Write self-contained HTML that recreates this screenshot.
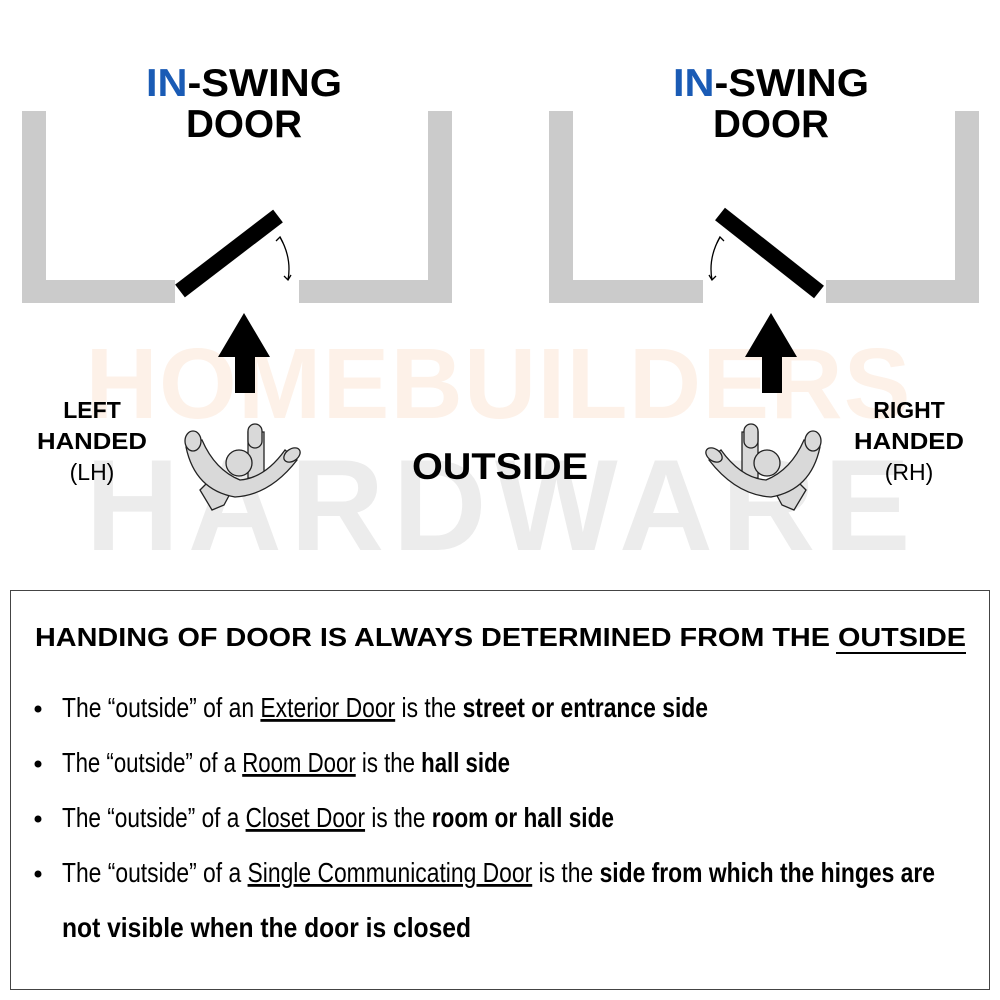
<!DOCTYPE html>
<html><head><meta charset="utf-8"><style>
html,body{margin:0;padding:0;background:#fff;}
svg{display:block;}
</style></head><body>
<svg width="1000" height="1000" viewBox="0 0 1000 1000" xmlns="http://www.w3.org/2000/svg" font-family="Liberation Sans, sans-serif">
<rect width="1000" height="1000" fill="#fff"/>
<!-- watermark -->
<text x="498" y="418" text-anchor="middle" font-size="100" font-weight="bold" fill="#fdf1e8" textLength="825" lengthAdjust="spacing">HOMEBUILDERS</text>
<text x="498" y="550" text-anchor="middle" font-size="130" font-weight="bold" fill="#ececec" textLength="825" lengthAdjust="spacing">HARDWARE</text>

<!-- titles -->
<text x="244" y="96" text-anchor="middle" font-size="39" font-weight="bold" textLength="196" lengthAdjust="spacingAndGlyphs"><tspan fill="#1a5bb5">IN</tspan><tspan fill="#000">-SWING</tspan></text>
<text x="244" y="137" text-anchor="middle" font-size="39" font-weight="bold" textLength="116" lengthAdjust="spacingAndGlyphs">DOOR</text>
<text x="771" y="96" text-anchor="middle" font-size="39" font-weight="bold" textLength="196" lengthAdjust="spacingAndGlyphs"><tspan fill="#1a5bb5">IN</tspan><tspan fill="#000">-SWING</tspan></text>
<text x="771" y="137" text-anchor="middle" font-size="39" font-weight="bold" textLength="116" lengthAdjust="spacingAndGlyphs">DOOR</text>

<g fill="#cbcbcb">
<rect x="22" y="111" width="24" height="192"/>
<rect x="46" y="280" width="129" height="23"/>
<rect x="299" y="280" width="129" height="23"/>
<rect x="428" y="111" width="24" height="192"/>
<rect x="549" y="111" width="24" height="192"/>
<rect x="573" y="280" width="130" height="23"/>
<rect x="826" y="280" width="129" height="23"/>
<rect x="955" y="111" width="24" height="192"/>
</g>
<line x1="180" y1="291" x2="278" y2="216" stroke="#000" stroke-width="16"/>
<line x1="720" y1="214" x2="819" y2="292" stroke="#000" stroke-width="16"/>
<g fill="none" stroke="#000" stroke-width="1.3">
<path d="M280 237 Q292 258 288 280"/>
<path d="M276 241 L280 237 L283 243"/>
<path d="M284 276 L288 280 L291 275"/>
<path d="M720 237 Q708 258 712 280"/>
<path d="M717 243 L720 237 L724 241"/>
<path d="M709 275 L712 280 L716 276"/>
</g>
<polygon points="244,313 270,357 255,357 255,393 235,393 235,357 218,357" fill="#000"/>
<polygon points="771,313 797,357 782,357 782,393 762,393 762,357 745,357" fill="#000"/>

<g id="p" stroke="#222" stroke-width="1.3" fill="#d9d9d9">
<path d="M200 490 L212 510 L224 505 L232 490 L212 478 Z"/>
<path d="M248 432 L248 478 L264 478 L264 432 Z"/>
<rect x="248" y="424" width="14" height="24" rx="7"/>
<path d="M186 447 Q195 490 235 497 Q270 495 297 460 L285 450 Q265 478 240 480 Q215 470 202 440 Z"/>
<ellipse cx="193" cy="441" rx="8" ry="10"/>
<ellipse cx="292" cy="455" rx="9" ry="6" transform="rotate(-35 292 455)"/>
<circle cx="239" cy="463" r="13"/>
</g>
<use href="#p" transform="translate(1006 0) scale(-1 1)"/>

<g text-anchor="middle" font-size="23">
<text x="92" y="418" font-weight="bold">LEFT</text>
<text x="92" y="449" font-weight="bold" textLength="110" lengthAdjust="spacingAndGlyphs">HANDED</text>
<text x="92" y="480">(LH)</text>
<text x="909" y="418" font-weight="bold">RIGHT</text>
<text x="909" y="449" font-weight="bold" textLength="110" lengthAdjust="spacingAndGlyphs">HANDED</text>
<text x="909" y="480">(RH)</text>
</g>
<text x="500" y="479" text-anchor="middle" font-size="37" font-weight="bold" textLength="176" lengthAdjust="spacingAndGlyphs">OUTSIDE</text>

<rect x="10.5" y="590.5" width="979" height="399" fill="none" stroke="#444" stroke-width="1"/>
<text x="35" y="646" font-size="26" font-weight="bold" textLength="931" lengthAdjust="spacingAndGlyphs">HANDING OF DOOR IS ALWAYS DETERMINED FROM THE OUTSIDE</text>
<rect x="836" y="652" width="130" height="2" fill="#000"/>

<g font-size="28">
<circle cx="38" cy="709" r="3.5"/>
<circle cx="38" cy="764" r="3.5"/>
<circle cx="38" cy="819" r="3.5"/>
<circle cx="38" cy="874" r="3.5"/>
<text x="62" y="717" textLength="646" lengthAdjust="spacingAndGlyphs">The “outside” of an <tspan text-decoration="underline">Exterior Door</tspan> is the <tspan font-weight="bold">street or entrance side</tspan></text>
<text x="62" y="772" textLength="448" lengthAdjust="spacingAndGlyphs">The “outside” of a <tspan text-decoration="underline">Room Door</tspan> is the <tspan font-weight="bold">hall side</tspan></text>
<text x="62" y="827" textLength="552" lengthAdjust="spacingAndGlyphs">The “outside” of a <tspan text-decoration="underline">Closet Door</tspan> is the <tspan font-weight="bold">room or hall side</tspan></text>
<text x="62" y="882" textLength="873" lengthAdjust="spacingAndGlyphs">The “outside” of a <tspan text-decoration="underline">Single Communicating Door</tspan> is the <tspan font-weight="bold">side from which the hinges are</tspan></text>
<text x="62" y="937" font-weight="bold" textLength="409" lengthAdjust="spacingAndGlyphs">not visible when the door is closed</text>
</g>
</svg>
</body></html>
